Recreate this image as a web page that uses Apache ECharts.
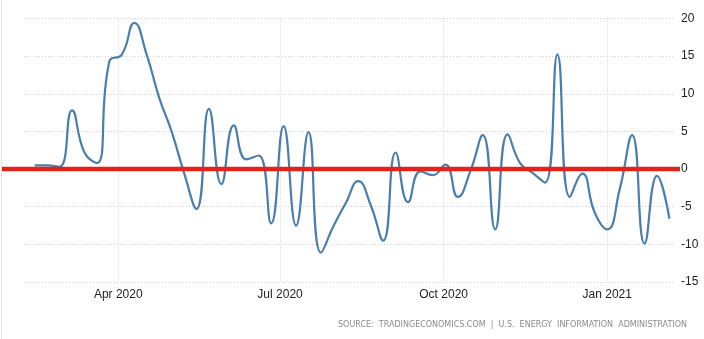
<!DOCTYPE html>
<html>
<head>
<meta charset="utf-8">
<script src="https://cdn.jsdelivr.net/npm/echarts@6/dist/echarts.min.js"></script>
<style>
html,body{margin:0;padding:0;background:#fff;}
#c{width:704px;height:339px;}
</style>
</head>
<body>
<div id="c"></div>
<script>
const dates = [
'2020-02-14','2020-02-21','2020-02-28','2020-03-06','2020-03-13','2020-03-20','2020-03-27',
'2020-04-03','2020-04-10','2020-04-17','2020-04-24','2020-05-01','2020-05-08','2020-05-15',
'2020-05-22','2020-05-29','2020-06-05','2020-06-12','2020-06-19','2020-06-26','2020-07-03',
'2020-07-10','2020-07-17','2020-07-24','2020-07-31','2020-08-07','2020-08-14','2020-08-21',
'2020-08-28','2020-09-04','2020-09-11','2020-09-18','2020-09-25','2020-10-02','2020-10-09',
'2020-10-16','2020-10-23','2020-10-30','2020-11-06','2020-11-13','2020-11-20','2020-11-27',
'2020-12-04','2020-12-11','2020-12-18','2020-12-25','2021-01-01','2021-01-08','2021-01-15',
'2021-01-22','2021-01-29','2021-02-05'
];
const values = [
0.5, 0.5, 0.3, 7.8, 2.2, 0.8, 14.3,
15.2, 19.4, 15.2, 9.5, 5.0, -0.5, -5.3,
8.0, -2.0, 5.8, 1.3, 1.8, -7.2, 5.7,
-7.5, 4.9, -11.1, -7.6, -4.5, -1.6, -4.8,
-9.5, 2.2, -4.4, -0.3, -0.8, 0.6, -3.7,
-0.3, 4.5, -8.0, 4.6, 0.8, -0.5, -1.8,
15.2, -3.7, -0.6, -5.8, -8.0, -2.7, 4.5,
-9.9, -0.9, -6.6
];
const yTicks = [-15, -10, -5, 0, 5, 10, 15, 20];
const zeroLine = [0, 0];
const xRange = ['2020-02-08', '2021-02-07'];
const sourceText = 'SOURCE:  TRADINGECONOMICS.COM  |  U.S.  ENERGY  INFORMATION  ADMINISTRATION';

const MONTHS = ['Jan','Feb','Mar','Apr','May','Jun','Jul','Aug','Sep','Oct','Nov','Dec'];
const chart = echarts.init(document.getElementById('c'), null, {renderer: 'canvas'});
const font = 'Liberation Sans, Arial, sans-serif';
chart.setOption({
  animation: false,
  backgroundColor: '#fff',
  title: {
    text: sourceText,
    right: 12, bottom: 5,
    textStyle: {fontSize: 8, color: '#8a8a8a', fontWeight: 'normal', fontFamily: 'DejaVu Sans, sans-serif'}
  },
  graphic: [{
    type: 'rect', left: 1, top: 0,
    shape: {width: 1, height: 339},
    style: {fill: '#e6e6e6'}, silent: true
  }],
  grid: [
    {left: 24, right: 31, top: 18.5, bottom: 57, containLabel: false},
    {left: 2, right: 24, top: 18.5, bottom: 57, containLabel: false}
  ],
  xAxis: [
    {
      type: 'time', gridIndex: 0,
      min: new Date(xRange[0] + 'T00:00:00').getTime(),
      max: new Date(xRange[1] + 'T00:00:00').getTime(),
      splitNumber: 4,
      minInterval: 1000*3600*24*85,
      axisLine: {show: false},
      axisTick: {show: false},
      axisLabel: {
        color: '#222', fontSize: 12, fontFamily: font, margin: 7,
        hideOverlap: false,
        formatter: function (v) { const d = new Date(v); return MONTHS[d.getMonth()] + ' ' + d.getFullYear(); }
      },
      splitLine: {show: true, showMinLine: false, showMaxLine: false,
        lineStyle: {color: '#cfcfcf', type: [1, 2], width: 1}}
    },
    {
      type: 'category', gridIndex: 1, boundaryGap: false, data: ['a', 'b'], show: false
    }
  ],
  yAxis: [
    {
      type: 'value', gridIndex: 0, position: 'right',
      min: yTicks[0], max: yTicks[yTicks.length - 1], interval: 5,
      axisLine: {show: false}, axisTick: {show: false},
      axisLabel: {color: '#222', fontSize: 12, fontFamily: font, margin: 8, align: 'left'},
      splitLine: {show: true, lineStyle: {color: '#cfcfcf', type: [1, 2], width: 1}}
    },
    {
      type: 'value', gridIndex: 1, min: yTicks[0], max: yTicks[yTicks.length - 1], show: false
    }
  ],
  series: [
    {
      type: 'line', xAxisIndex: 0, yAxisIndex: 0,
      data: dates.map((d, i) => [new Date(d + 'T00:00:00').getTime(), values[i]]),
      smooth: 0.5, showSymbol: false, symbol: 'none',
      lineStyle: {color: '#4a7eac', width: 2.2},
      z: 2
    },
    {
      type: 'line', xAxisIndex: 1, yAxisIndex: 1,
      data: zeroLine, showSymbol: false, symbol: 'none',
      lineStyle: {color: '#e0241c', width: 4.5},
      z: 3, silent: true
    }
  ]
});
</script>
</body>
</html>
